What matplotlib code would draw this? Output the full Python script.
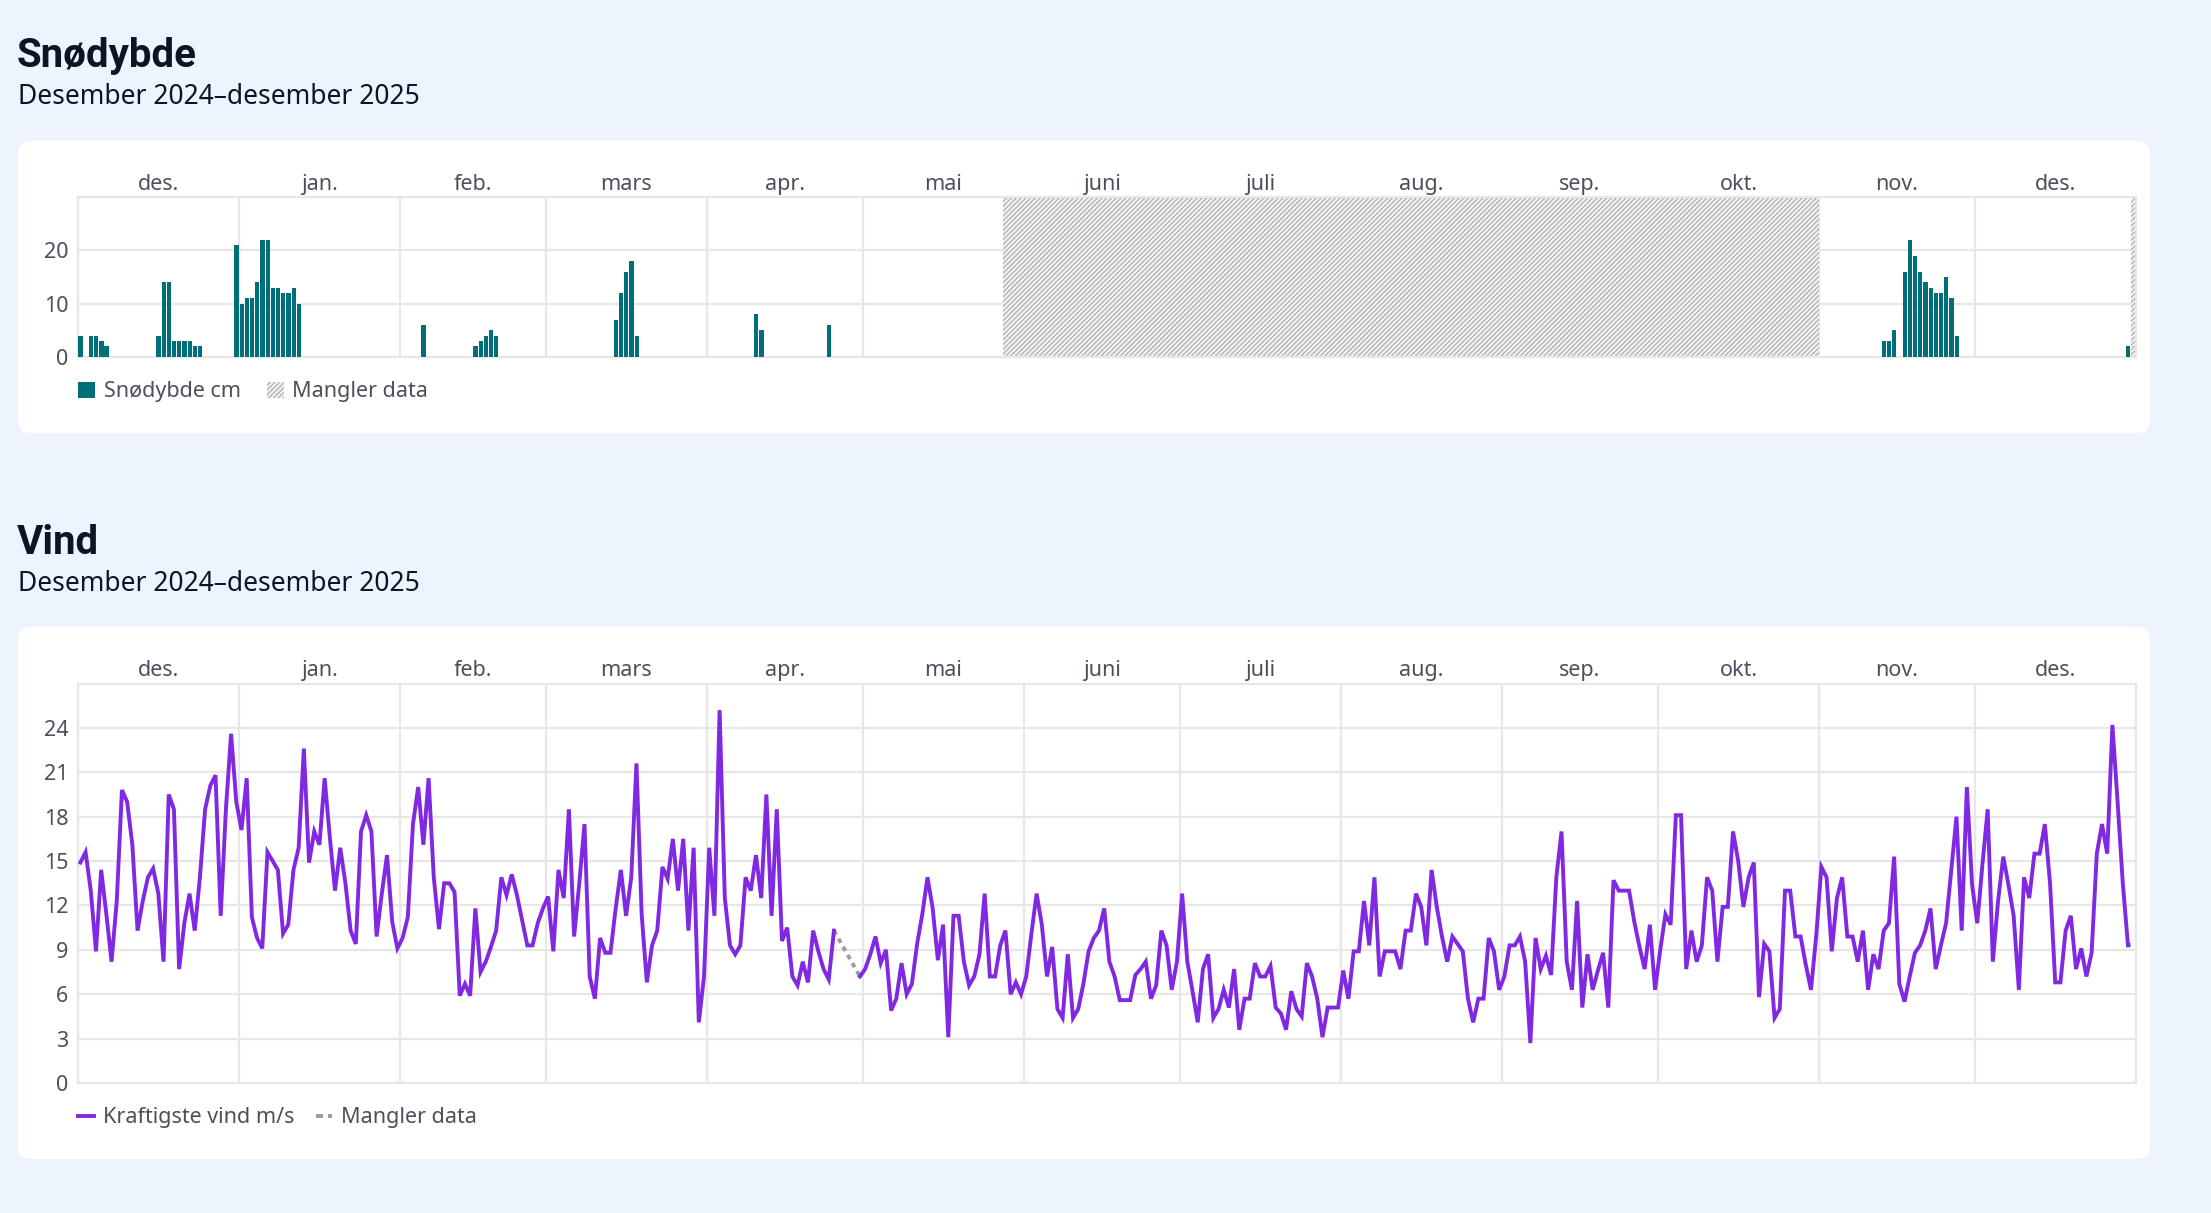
import numpy as np
import pandas as pd
import matplotlib
matplotlib.use('Agg')
import matplotlib.pyplot as plt
import matplotlib.dates as mdates
from matplotlib.patches import FancyBboxPatch, Patch
from matplotlib.lines import Line2D
from matplotlib.ticker import FixedLocator, FixedFormatter, NullFormatter

plt.rcParams['font.family'] = ['Noto Sans', 'DejaVu Sans']
plt.rcParams['hatch.linewidth'] = 1.0

# ---------------- data ----------------
month_labels = ['des.', 'jan.', 'feb.', 'mars', 'apr.', 'mai', 'juni', 'juli',
                'aug.', 'sep.', 'okt.', 'nov.', 'des.']
period_start = '2024-12-01'
period_end = '2026-01-01'

snow_dates = ['2024-12-01', '2024-12-03', '2024-12-04', '2024-12-05', '2024-12-06',
              '2024-12-16', '2024-12-17', '2024-12-18', '2024-12-19', '2024-12-20',
              '2024-12-21', '2024-12-22', '2024-12-23', '2024-12-24', '2024-12-31',
              '2025-01-01', '2025-01-02', '2025-01-03', '2025-01-04', '2025-01-05',
              '2025-01-06', '2025-01-07', '2025-01-08', '2025-01-09', '2025-01-10',
              '2025-01-11', '2025-01-12', '2025-02-05', '2025-02-15', '2025-02-16',
              '2025-02-17', '2025-02-18', '2025-02-19', '2025-03-14', '2025-03-15',
              '2025-03-16', '2025-03-17', '2025-03-18', '2025-04-10', '2025-04-11',
              '2025-04-24', '2025-11-13', '2025-11-14', '2025-11-15', '2025-11-17',
              '2025-11-18', '2025-11-19', '2025-11-20', '2025-11-21', '2025-11-22',
              '2025-11-23', '2025-11-24', '2025-11-25', '2025-11-26', '2025-11-27',
              '2025-12-30']
snow_cm = [4, 4, 4, 3, 2,
           4, 14, 14, 3, 3,
           3, 3, 2, 2, 21,
           10, 11, 11, 14, 22,
           22, 13, 13, 12, 12,
           13, 10, 6, 2, 3,
           4, 5, 4, 7, 12,
           16, 18, 4, 8, 5,
           6, 3, 3, 5, 16,
           22, 19, 16, 14, 13,
           12, 12, 15, 11, 4,
           2]
snow_missing_from = ['2025-05-28', '2025-12-31']
snow_missing_to = ['2025-11-01', '2026-01-01']

wind_first_day = '2024-12-01'
nan = np.nan
wind_ms = [
    # des. 2024
    14.9, 15.6, 13.0, 8.9, 14.4, 11.4, 8.2, 12.3, 19.8, 19.0,
    16.1, 10.3, 12.3, 13.9, 14.5, 12.8, 8.2, 19.5, 18.5, 7.7,
    10.8, 12.8, 10.3, 13.9, 18.5, 20.1, 20.8, 11.3, 18.5, 23.6,
    19.0,
    # jan.
    17.1, 20.6, 11.2, 9.8, 9.1, 15.6, 15.0, 14.4, 10.1, 10.7,
    14.4, 15.9, 22.6, 14.9, 17.0, 16.1, 20.6, 16.6, 13.0, 15.9,
    13.5, 10.3, 9.4, 17.0, 18.1, 17.0, 9.9, 12.8, 15.4, 10.9,
    9.1,
    # feb.
    9.8, 11.2, 17.5, 20.0, 16.1, 20.6, 13.9, 10.4, 13.5, 13.5,
    12.9, 5.9, 6.7, 5.9, 11.8, 7.5, 8.2, 9.2, 10.3, 13.9,
    12.7, 14.1, 12.7, 11.0, 9.3, 9.3, 10.8, 11.8,
    # mars
    12.6, 8.9, 14.4, 12.5, 18.5, 9.9, 13.5, 17.5, 7.2, 5.7,
    9.8, 8.8, 8.8, 11.8, 14.4, 11.3, 13.9, 21.6, 11.4, 6.8,
    9.3, 10.3, 14.6, 13.8, 16.5, 13.0, 16.5, 10.3, 15.9, 4.1,
    7.2,
    # apr.
    15.9, 11.3, 25.2, 12.5, 9.3, 8.7, 9.3, 13.9, 13.0, 15.4,
    12.5, 19.5, 11.3, 18.5, 9.6, 10.5, 7.2, 6.6, 8.2, 6.8,
    10.3, 8.9, 7.7, 7.0, 10.3, nan, nan, nan, nan, 7.2,
    # mai
    7.7, 8.7, 9.9, 8.1, 9.0, 4.9, 5.7, 8.1, 6.0, 6.7,
    9.4, 11.4, 13.9, 11.8, 8.3, 10.7, 3.1, 11.3, 11.3, 8.2,
    6.6, 7.2, 8.7, 12.8, 7.2, 7.2, 9.3, 10.3, 6.0, 6.8,
    6.0,
    # juni
    7.2, 10.1, 12.8, 10.7, 7.2, 9.2, 5.0, 4.4, 8.7, 4.4,
    5.0, 6.7, 8.9, 9.8, 10.3, 11.8, 8.2, 7.2, 5.6, 5.6,
    5.6, 7.3, 7.7, 8.2, 5.7, 6.6, 10.3, 9.3, 6.3, 8.2,
    # juli
    12.8, 8.2, 6.2, 4.1, 7.7, 8.7, 4.4, 5.0, 6.3, 5.1,
    7.7, 3.6, 5.7, 5.7, 8.1, 7.2, 7.2, 7.9, 5.1, 4.7,
    3.6, 6.2, 5.0, 4.5, 8.1, 7.2, 5.7, 3.1, 5.1, 5.1,
    5.1,
    # aug.
    7.6, 5.7, 8.9, 8.9, 12.3, 9.3, 13.9, 7.2, 8.9, 8.9,
    8.9, 7.7, 10.3, 10.3, 12.8, 11.9, 9.3, 14.4, 11.9, 9.9,
    8.2, 9.9, 9.4, 8.9, 5.7, 4.1, 5.7, 5.7, 9.8, 8.9,
    6.3,
    # sep.
    7.2, 9.3, 9.3, 9.9, 8.2, 2.7, 9.8, 7.7, 8.6, 7.3,
    13.9, 17.0, 8.2, 6.3, 12.3, 5.1, 8.7, 6.3, 7.6, 8.8,
    5.1, 13.7, 13.0, 13.0, 13.0, 10.9, 9.2, 7.7, 10.7, 6.3,
    # okt.
    9.0, 11.4, 10.7, 18.1, 18.1, 7.7, 10.3, 8.2, 9.3, 13.9,
    13.0, 8.2, 11.9, 11.9, 17.0, 15.0, 11.9, 13.9, 14.9, 5.8,
    9.4, 8.9, 4.4, 5.0, 13.0, 13.0, 9.9, 9.9, 8.0, 6.3,
    9.9,
    # nov.
    14.6, 13.9, 8.9, 12.5, 13.9, 9.9, 9.9, 8.2, 10.3, 6.3,
    8.7, 7.7, 10.3, 10.8, 15.3, 6.7, 5.5, 7.2, 8.8, 9.3,
    10.3, 11.8, 7.7, 9.3, 10.8, 14.4, 18.0, 10.3, 20.0, 13.4,
    # des. 2025
    10.8, 14.8, 18.5, 8.2, 12.3, 15.3, 13.4, 11.3, 6.3, 13.9,
    12.5, 15.5, 15.5, 17.5, 13.5, 6.8, 6.8, 10.3, 11.3, 7.7,
    9.1, 7.2, 8.8, 15.5, 17.5, 15.5, 24.2, 19.0, 13.5, 9.3,
    nan,
]

# ---------------- style ----------------
W, H = 2211, 1213
BG = '#EDF4FE'
TEAL = '#006F79'
PURPLE = '#8129E2'
GRID = '#E9E6E6'
TXT = '#4B505C'
DARK = '#0B1526'
MISS = '#9B9B9B'
HATCH_FC = '#F4F4F4'
HATCH_EC = '#B3B3B3'
LW = 2.8


def fx(px):
    return px / W


def fy(py):
    return 1 - py / H


fig = plt.figure(figsize=(W / 100, H / 100), dpi=100, facecolor=BG)

# cards
for (x0, y0, x1, y1) in [(18, 141, 2150, 433), (18, 627, 2150, 1159)]:
    card = FancyBboxPatch((x0 / 100, (H - y1) / 100), (x1 - x0) / 100, (y1 - y0) / 100,
                          boxstyle='round,pad=0,rounding_size=0.13',
                          transform=fig.dpi_scale_trans, facecolor='white',
                          edgecolor='none', zorder=-10)
    fig.add_artist(card)

# titles
for title, base_t, base_s in [('Snødybde', 67, 104), ('Vind', 554, 591)]:
    fig.text(fx(17), fy(base_t), title, fontsize=29, fontweight='bold', color=DARK,
             va='baseline', ha='left', family=['Roboto', 'DejaVu Sans'])
    fig.text(fx(18), fy(base_s), 'Desember 2024–desember 2025', fontsize=19,
             color=DARK, va='baseline', ha='left')

month_starts = pd.date_range(period_start, period_end, freq='MS')
month_mid = [a + (b - a) / 2 for a, b in zip(month_starts[:-1], month_starts[1:])]
xmin = pd.Timestamp(period_start)
xmax = pd.Timestamp(period_end)


def style_axes(ax, yticks, ylim, label_pad):
    ax.set_facecolor('white')
    ax.set_xlim(xmin, xmax)
    ax.set_ylim(*ylim)
    ax.xaxis.set_major_locator(FixedLocator(mdates.date2num(month_starts)))
    ax.xaxis.set_major_formatter(NullFormatter())
    ax.xaxis.set_minor_locator(FixedLocator(mdates.date2num(month_mid)))
    ax.xaxis.set_minor_formatter(FixedFormatter(month_labels))
    ax.xaxis.tick_top()
    ax.tick_params(axis='x', which='both', length=0)
    ax.tick_params(axis='x', which='minor', labelsize=15.5, labelcolor=TXT, pad=label_pad)
    ax.set_yticks(yticks)
    ax.tick_params(axis='y', length=0, labelsize=15.5, labelcolor=TXT, pad=7)
    ax.grid(True, which='major', color=GRID, lw=1.6)
    ax.set_axisbelow(True)
    for s in ax.spines.values():
        s.set_color(GRID)
        s.set_linewidth(1.6)


# ---------------- snow ----------------
ax1 = fig.add_axes([fx(78), fy(357), fx(2136) - fx(78), (357 - 197) / H])
style_axes(ax1, [0, 10, 20], (0, 30), 1.5)
sd = pd.to_datetime(snow_dates) + pd.Timedelta(hours=12)
ax1.bar(sd, snow_cm, width=0.82, color=TEAL, zorder=3)
for a, b in zip(snow_missing_from, snow_missing_to):
    ax1.axvspan(pd.Timestamp(a), pd.Timestamp(b), facecolor=HATCH_FC, edgecolor=HATCH_EC,
                hatch='///////', lw=0, zorder=2)

h1 = [Patch(facecolor=TEAL, edgecolor='none', label='Snødybde cm'),
      Patch(facecolor=HATCH_FC, edgecolor=HATCH_EC, hatch='///////', lw=0, label='Mangler data')]
leg1 = ax1.legend(handles=h1, loc='center left', bbox_to_anchor=(0, (357 - 392) / 160),
                  ncol=2, frameon=False, fontsize=15.5, handlelength=0.8, handleheight=0.8,
                  handletextpad=0.4, columnspacing=1.2, borderaxespad=0, borderpad=0)
for t in leg1.get_texts():
    t.set_color(TXT)

# ---------------- wind ----------------
ax2 = fig.add_axes([fx(78), fy(1083), fx(2136) - fx(78), (1083 - 683.5) / H])
style_axes(ax2, list(range(0, 25, 3)), (0, 27), 1.5)
wd = pd.date_range(wind_first_day, periods=len(wind_ms), freq='D') + pd.Timedelta(hours=11)
wv = np.array(wind_ms, dtype=float)
ax2.plot(wd, wv, color=PURPLE, lw=LW, solid_joinstyle='miter', zorder=3)
# dotted connection across missing days
valid = ~np.isnan(wv)
idx = np.where(valid)[0]
for i0, i1 in zip(idx[:-1], idx[1:]):
    if i1 - i0 > 1:
        ax2.plot([wd[i0], wd[i1]], [wv[i0], wv[i1]], color=MISS, lw=LW,
                 linestyle=(0, (1.2, 1.2)), zorder=2)
if not valid[-1]:
    last = idx[-1]
    ax2.plot([wd[last], wd[last] + pd.Timedelta(hours=14)], [wv[last], wv[last]],
             color=MISS, lw=LW, linestyle=(0, (1.2, 1.2)), zorder=2)

h2 = [Line2D([], [], color=PURPLE, lw=LW, label='Kraftigste vind m/s'),
      Line2D([], [], color=MISS, lw=LW, linestyle=(0, (1.8, 1.3)), label='Mangler data')]
leg2 = ax2.legend(handles=h2, loc='center left', bbox_to_anchor=(0, (1083 - 1118) / 399.5),
                  ncol=2, frameon=False, fontsize=15.5, handlelength=0.75,
                  handletextpad=0.4, columnspacing=1.0, borderaxespad=0, borderpad=0)
for t in leg2.get_texts():
    t.set_color(TXT)

fig.savefig('out.png', dpi=100, facecolor=BG)
